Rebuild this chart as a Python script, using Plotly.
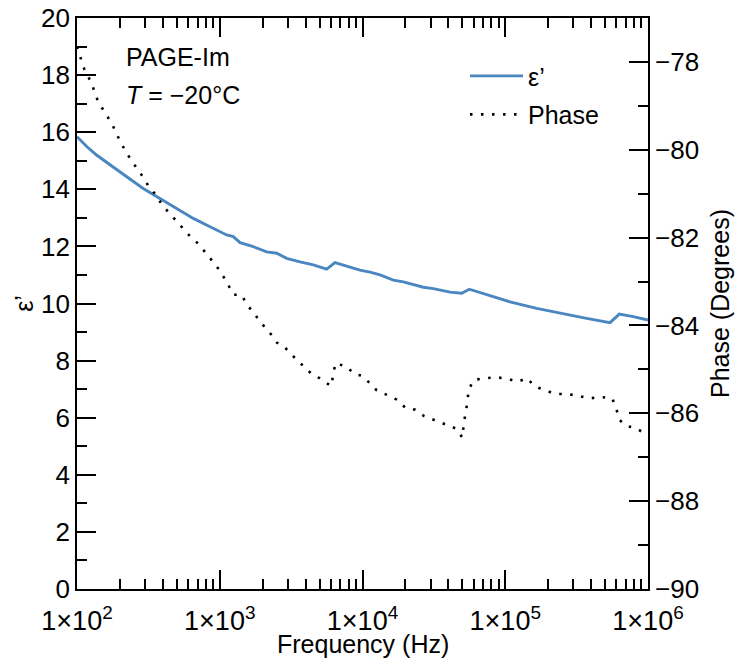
import plotly.graph_objects as go

# Dielectric constant vs frequency
eps_freq = [100, 117, 137, 170, 223, 291, 381, 499, 653, 855, 1119, 1245, 1387,
            1718, 2133, 2506, 2944, 3648, 4519, 5610, 6412, 7745, 9594, 11298,
            13274, 16444, 19320, 26669, 31333, 41020, 49545, 55976, 74131,
            107900, 165959, 255270, 371535, 542001, 629506, 788860, 1000000]
eps_real = [15.84, 15.5, 15.2, 14.85, 14.44, 14.03, 13.68, 13.33, 12.98, 12.69,
            12.40, 12.34, 12.13, 11.99, 11.81, 11.76, 11.58, 11.46, 11.35, 11.20,
            11.43, 11.31, 11.17, 11.10, 11.00, 10.82, 10.76, 10.57, 10.52, 10.40,
            10.36, 10.50, 10.30, 10.06, 9.83, 9.63, 9.48, 9.33, 9.63, 9.54, 9.42]

# Impedance phase vs frequency
phase_freq = [100, 112, 126, 141, 158, 178, 200, 224, 251, 282, 316, 355, 398,
              447, 501, 562, 631, 708, 794, 891, 1000, 1122, 1245, 1413, 1585,
              1778, 1995, 2239, 2512, 2818, 3162, 3548, 3981, 4467, 5012, 5623,
              6026, 6457, 7762, 8710, 10000, 11220, 12589, 14791, 17378, 19953,
              23442, 26915, 31623, 38019, 44668, 50119, 51286, 53088, 54325,
              55590, 60256, 72444, 87096, 102329, 123027, 141254, 162181,
              190546, 223872, 269153, 323594, 389045, 467735, 562341, 602560,
              630957, 707946, 831764, 1000000]
phase_deg = [-77.65, -78.15, -78.47, -78.92, -79.16, -79.45, -79.80, -80.09,
             -80.33, -80.56, -80.82, -81.02, -81.27, -81.45, -81.63, -81.83,
             -82.00, -82.14, -82.33, -82.54, -82.75, -83.02, -83.30, -83.30,
             -83.56, -83.78, -83.98, -84.16, -84.39, -84.48, -84.65, -84.82,
             -84.96, -85.13, -85.20, -85.30, -85.38, -84.86, -84.94, -85.10,
             -85.15, -85.31, -85.48, -85.58, -85.69, -85.87, -85.92, -86.06,
             -86.15, -86.26, -86.34, -86.55, -86.21, -85.96, -85.71, -85.45,
             -85.24, -85.20, -85.18, -85.21, -85.28, -85.20, -85.39, -85.48,
             -85.56, -85.56, -85.60, -85.66, -85.63, -85.66, -85.92, -86.15,
             -86.29, -86.34, -86.52]

x_tickvals = [1e2, 1e3, 1e4, 1e5, 1e6]
x_ticktext = ["1\u00d710<sup>2</sup>", "1\u00d710<sup>3</sup>", "1\u00d710<sup>4</sup>",
              "1\u00d710<sup>5</sup>", "1\u00d710<sup>6</sup>"]
x_minor = [m * 10 ** e for e in range(2, 6) for m in range(2, 10)]

FONT = "Liberation Sans, Arial, sans-serif"
FS = 25
BLUE = "#4A86C0"

fig = go.Figure()
fig.add_trace(go.Scatter(
    x=eps_freq, y=eps_real, mode="lines", name="\u03b5\u2019",
    line=dict(color=BLUE, width=2.9), legendgroup="a",
    xaxis="x", yaxis="y"))
fig.add_trace(go.Scatter(
    x=phase_freq, y=phase_deg, mode="lines", name="Phase",
    line=dict(color="black", width=2.6, dash="2.5px,8.5px"),
    legendgroup="b", xaxis="x2", yaxis="y2"))

axis_common = dict(
    showgrid=False, zeroline=False, showline=True, linecolor="black",
    linewidth=1.8, ticks="inside", tickcolor="black", tickwidth=1.5,
    automargin=False,
    title_font=dict(family=FONT, size=FS, color="black"),
)
minor_x = dict(ticks="inside", ticklen=10, tickcolor="black", tickwidth=1.5,
               tickmode="array", tickvals=x_minor, showgrid=False)
minor_y = dict(ticks="inside", ticklen=10, tickcolor="black", tickwidth=1.5,
               dtick=1, showgrid=False)
yfont = dict(family=FONT, size=26, color="black")
xfont = dict(family=FONT, size=27, color="black")

fig.update_layout(
    width=737, height=668,
    margin=dict(l=77, r=89, t=18, b=79),
    paper_bgcolor="white", plot_bgcolor="white",
    font=dict(family=FONT, size=FS, color="black"),
    xaxis=dict(
        type="log", range=[2, 6], tickmode="array",
        tickvals=x_tickvals, ticktext=x_ticktext, ticklen=19,
        tickfont=xfont, ticklabelstandoff=7,
        minor=minor_x,
        **axis_common),
    # top frame: same log scale, ticks only
    xaxis2=dict(
        type="log", range=[2, 6], tickmode="array", tickvals=x_tickvals,
        ticklen=19, overlaying="x", side="top", anchor="y",
        showticklabels=False, minor=minor_x,
        **axis_common),
    yaxis=dict(
        range=[0, 20], tickmode="linear", tick0=0, dtick=2, ticklen=19,
        tickfont=yfont, minor=minor_y,
        title=dict(text="\u03b5\u2019", standoff=0,
                   font=dict(family="Liberation Serif, Times New Roman, serif", size=26)),
        **axis_common),
    yaxis2=dict(
        range=[-90, -77], overlaying="y", side="right", anchor="x2",
        tickmode="linear", tick0=-90, dtick=2, ticklen=19,
        tickfont=yfont, minor=minor_y,
        title=dict(text="Phase (Degrees)", standoff=13),
        **axis_common),
    legend=dict(
        x=0.6795, y=0.9385, xanchor="left", yanchor="top",
        bgcolor="rgba(0,0,0,0)", borderwidth=0,
        font=dict(family=FONT, size=FS, color="black"),
        traceorder="grouped", tracegroupgap=3, itemwidth=53,
    ),
    showlegend=True,
)

# x-axis title
fig.add_annotation(
    x=0.5, y=-0.097, xref="paper", yref="paper", xanchor="center", yanchor="middle",
    text="Frequency (Hz)", showarrow=False, font=dict(family=FONT, size=FS, color="black"))

fig.add_annotation(
    x=0.082, y=0.931, xref="paper", yref="paper", xanchor="left", yanchor="middle",
    text="PAGE-Im", showarrow=False, font=dict(family=FONT, size=FS, color="black"))
fig.add_annotation(
    x=0.082, y=0.866, xref="paper", yref="paper", xanchor="left", yanchor="middle",
    text="<i>T</i> = \u221220\u00b0C", showarrow=False,
    font=dict(family=FONT, size=FS, color="black"))

fig.write_html("out.html")
